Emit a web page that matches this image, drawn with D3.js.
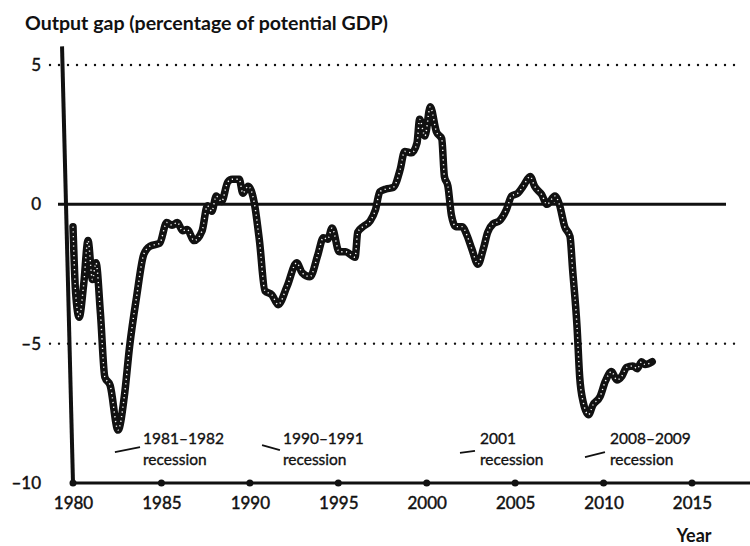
<!DOCTYPE html>
<html>
<head>
<meta charset="utf-8">
<script src="https://cdn.jsdelivr.net/npm/d3@7"></script>
<style>
  body { margin: 0; background: #fff; }
  text { font-family: Lato, "Open Sans", sans-serif; fill: #111; }
</style>
</head>
<body>
<svg width="750" height="546"></svg>
<script>
// output gap (year, % of potential GDP)
var years = [1980.00, 1980.15, 1980.35, 1980.60, 1980.85, 1981.10, 1981.30, 1981.55, 1981.80, 1982.10,
  1982.55, 1982.90, 1983.20, 1983.60, 1984.00, 1984.35, 1984.90, 1985.30, 1985.60, 1985.90,
  1986.20, 1986.45, 1986.85, 1987.30, 1987.60, 1987.85, 1988.10, 1988.40, 1988.75, 1989.00,
  1989.40, 1989.60, 1989.90, 1990.25, 1990.55, 1990.85, 1991.25, 1991.60, 1992.10, 1992.65,
  1992.95, 1993.40, 1993.85, 1994.15, 1994.40, 1994.65, 1995.05, 1995.40, 1995.95, 1996.10,
  1996.40, 1996.80, 1997.10, 1997.35, 1997.70, 1998.10, 1998.50, 1998.75, 1999.15, 1999.45,
  1999.60, 1999.90, 2000.20, 2000.55, 2000.85, 2001.00, 2001.20, 2001.40, 2001.65, 2002.00,
  2002.30, 2002.55, 2002.90, 2003.20, 2003.45, 2003.75, 2004.10, 2004.50, 2004.80, 2005.15,
  2005.45, 2005.85, 2006.10, 2006.50, 2006.80, 2007.25, 2007.50, 2007.80, 2008.10, 2008.25,
  2008.50, 2008.65, 2008.85, 2009.15, 2009.40, 2009.80, 2010.10, 2010.45, 2010.75, 2011.05,
  2011.30, 2011.65, 2011.90, 2012.15, 2012.35, 2012.75];
var gap = [-0.8, -3.2, -4.05, -2.9, -1.3, -2.7, -2.1, -3.9, -6.2, -6.5,
  -8.1, -6.9, -5.1, -3.3, -1.8, -1.5, -1.4, -0.65, -0.75, -0.65,
  -0.95, -0.9, -1.3, -0.95, -0.05, -0.25, 0.3, 0.1, 0.8, 0.9,
  0.9, 0.4, 0.65, 0.05, -1.35, -3.1, -3.25, -3.6, -2.95, -2.1,
  -2.45, -2.6, -1.8, -1.2, -1.25, -0.85, -1.7, -1.7, -1.9, -1.0,
  -0.8, -0.6, -0.2, 0.45, 0.55, 0.6, 1.25, 1.9, 1.85, 2.2,
  3.05, 2.45, 3.5, 2.6, 2.35, 1.0, 0.65, -0.4, -0.8, -0.8,
  -1.15, -1.6, -2.15, -1.6, -1.0, -0.7, -0.6, -0.2, 0.3, 0.4,
  0.65, 1.0, 0.65, 0.35, 0.0, 0.3, 0.0, -0.8, -1.15, -2.35,
  -4.4, -6.2, -7.1, -7.55, -7.2, -6.9, -6.35, -6.0, -6.3, -6.15,
  -5.85, -5.8, -5.9, -5.65, -5.75, -5.65];

var yearTicks = [1980, 1985, 1990, 1995, 2000, 2005, 2010, 2015];
var gapTicks = [-10, -5, 0, 5];
var recessionYears = ["1981–1982", "1990–1991", "2001", "2008–2009"];

var data = years.map(function (d, i) { return { year: d, gap: gap[i] }; });

var svg = d3.select("svg");

var x = d3.scaleLinear().domain([1980, 2015]).range([73, 692]);
var y = d3.scaleLinear().domain([-10, 5]).range([483, 65]);

// title
svg.append("text")
  .attr("x", 25)
  .attr("y", 30)
  .attr("textLength", 363)
  .attr("lengthAdjust", "spacingAndGlyphs")
  .style("font-size", "18px")
  .style("font-weight", "bold")
  .text("Output gap (percentage of potential GDP)");

// dotted gridlines at +5 and -5
svg.selectAll(".grid")
  .data([5, -5])
  .enter().append("line")
  .attr("class", "grid")
  .attr("x1", 50)
  .attr("x2", 742)
  .attr("y1", function (d) { return y(d); })
  .attr("y2", function (d) { return y(d); })
  .attr("stroke", "#111")
  .attr("stroke-width", 2.4)
  .attr("stroke-linecap", "round")
  .attr("stroke-dasharray", "0,9");

// zero line
svg.append("line")
  .attr("x1", 58)
  .attr("x2", 726)
  .attr("y1", y(0))
  .attr("y2", y(0))
  .attr("stroke", "#111")
  .attr("stroke-width", 3);

// y axis (slightly slanted as in the scan)
svg.append("line")
  .attr("x1", x(1979.38))
  .attr("y1", y(5.67))
  .attr("x2", x(1980))
  .attr("y2", y(-10))
  .attr("stroke", "#111")
  .attr("stroke-width", 4);

// x axis line
svg.append("line")
  .attr("x1", x(1980))
  .attr("x2", 750)
  .attr("y1", y(-10))
  .attr("y2", y(-10))
  .attr("stroke", "#111")
  .attr("stroke-width", 3);

svg.selectAll(".tickdot")
  .data(yearTicks)
  .enter().append("circle")
  .attr("class", "tickdot")
  .attr("cx", function (d) { return x(d); })
  .attr("cy", y(-10))
  .attr("r", 3.5)
  .attr("fill", "#111");

var gx = svg.append("g")
  .attr("transform", "translate(0," + y(-10) + ")")
  .call(d3.axisBottom(x).tickValues(yearTicks).tickSize(0).tickPadding(14).tickFormat(d3.format("d")));
gx.select(".domain").remove();
gx.selectAll("text")
  .style("font-family", "Lato, sans-serif")
  .style("font-size", "17px")
  .attr("fill", "#111")
  .attr("stroke", "#111")
  .attr("stroke-width", 0.45);

var gy = svg.append("g")
  .attr("transform", "translate(41,0)")
  .call(d3.axisLeft(y).tickValues(gapTicks).tickSize(0).tickPadding(0)
    .tickFormat(function (d) { return d < 0 ? "–" + Math.abs(d) : d; }));
gy.select(".domain").remove();
gy.selectAll("text")
  .style("font-family", "Lato, sans-serif")
  .style("font-size", "17px")
  .attr("fill", "#111")
  .attr("stroke", "#111")
  .attr("stroke-width", 0.45);

svg.append("text")
  .attr("x", 694)
  .attr("y", 542)
  .attr("text-anchor", "middle")
  .style("font-size", "18px")
  .style("font-weight", "bold")
  .text("Year");

// the output gap line: thick black with a white dotted core
var line = d3.line()
  .x(function (d) { return x(d.year); })
  .y(function (d) { return y(d.gap); })
  .curve(d3.curveMonotoneX);

svg.append("path")
  .datum(data)
  .attr("fill", "none")
  .attr("stroke", "#111")
  .attr("stroke-width", 7.5)
  .attr("stroke-linejoin", "round")
  .attr("stroke-linecap", "round")
  .attr("d", line);

svg.append("path")
  .datum(data)
  .attr("fill", "none")
  .attr("stroke", "#fff")
  .attr("stroke-width", 1.4)
  .attr("stroke-dasharray", "1.2,3.5")
  .attr("d", line);

// recession annotations (anchors in data units)
var notes = [
  { tx: 1983.96, lx1: 1982.37, ly1: -8.89, lx2: 1983.79, ly2: -8.71 },
  { tx: 1991.87, lx1: 1990.69, ly1: -8.64, lx2: 1991.70, ly2: -8.82 },
  { tx: 2003.01, lx1: 2001.88, ly1: -8.92, lx2: 2002.73, ly2: -8.85 },
  { tx: 2010.36, lx1: 2008.95, ly1: -9.07, lx2: 2010.08, ly2: -8.89 }
];

var ann = svg.selectAll(".note")
  .data(notes)
  .enter().append("g")
  .attr("class", "note");

ann.append("line")
  .attr("x1", function (d) { return x(d.lx1); })
  .attr("y1", function (d) { return y(d.ly1); })
  .attr("x2", function (d) { return x(d.lx2); })
  .attr("y2", function (d) { return y(d.ly2); })
  .attr("stroke", "#111")
  .attr("stroke-width", 1.8);

ann.append("text")
  .attr("x", function (d) { return x(d.tx); })
  .attr("y", y(-8.6))
  .style("font-size", "15.5px")
  .attr("stroke", "#111")
  .attr("stroke-width", 0.35)
  .text(function (d, i) { return recessionYears[i]; });

ann.append("text")
  .attr("x", function (d) { return x(d.tx); })
  .attr("y", y(-9.35))
  .style("font-size", "15.5px")
  .attr("stroke", "#111")
  .attr("stroke-width", 0.35)
  .text("recession");
</script>
</body>
</html>
